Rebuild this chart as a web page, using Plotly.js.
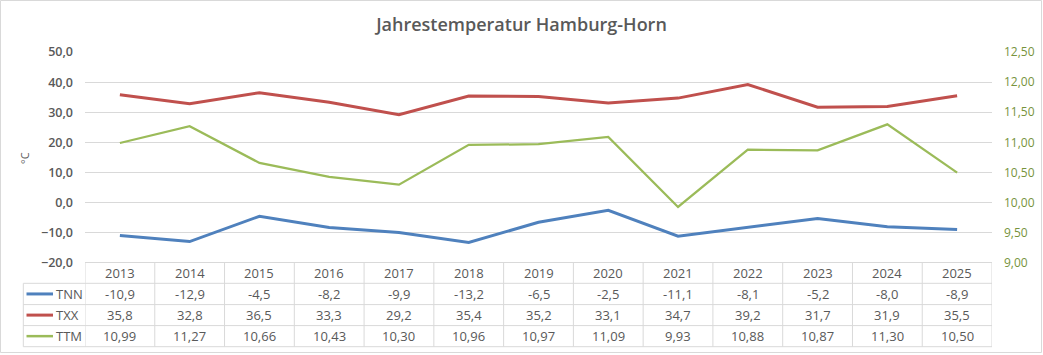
<!DOCTYPE html>
<html>
<head>
<meta charset="utf-8">
<script src="https://cdn.plot.ly/plotly-3.0.1.min.js"></script>
<style>html,body{margin:0;padding:0;background:#fff;}#chart{width:1043px;height:355px;}</style>
</head>
<body>
<div id="chart"></div>
<script>
// ---- data ----
const years = [2013, 2014, 2015, 2016, 2017, 2018, 2019, 2020, 2021, 2022, 2023, 2024, 2025];
const tnn = [-10.9, -12.9, -4.5, -8.2, -9.9, -13.2, -6.5, -2.5, -11.1, -8.1, -5.2, -8.0, -8.9];
const txx = [35.8, 32.8, 36.5, 33.3, 29.2, 35.4, 35.2, 33.1, 34.7, 39.2, 31.7, 31.9, 35.5];
const ttm = [10.99, 11.27, 10.66, 10.43, 10.30, 10.96, 10.97, 11.09, 9.93, 10.88, 10.87, 11.30, 10.50];
const seriesNames = ['TNN', 'TXX', 'TTM'];
const seriesDecimals = [1, 1, 2];
const seriesColors = ['#4F81BD', '#C0504D', '#9BBB59'];
const titleText = 'Jahrestemperatur Hamburg-Horn';
const yTitle = '°C';

// ---- geometry helpers (layout only) ----
const FW = 1043, FH = 355;
const L = 85, R = 51, T = 52, B = 92;
const PW = FW - L - R, PH = FH - T - B;
const px = p => (p - L) / PW;
const py = p => 1 - (p - T) / PH;

const gray = '#595959';
const lineGray = '#D9D9D9';
const font = 'Open Sans, Noto Sans, sans-serif';

const traces = [
  {x: years, y: tnn, name: seriesNames[0], type: 'scatter', mode: 'lines', line: {color: seriesColors[0], width: 3}, yaxis: 'y'},
  {x: years, y: txx, name: seriesNames[1], type: 'scatter', mode: 'lines', line: {color: seriesColors[1], width: 3}, yaxis: 'y'},
  {x: years, y: ttm, name: seriesNames[2], type: 'scatter', mode: 'lines', line: {color: seriesColors[2], width: 2.25}, yaxis: 'y2'}
];

const rowsPx = [262.5, 283.3, 304.6, 325.6, 346.7];
const tableRightYear = years[years.length - 1] + 0.5;
const tableLeftYear = years[0] - 0.5;

const shapes = [];
const annotations = [];
// outer border
shapes.push({type: 'rect', xref: 'paper', yref: 'paper', x0: px(0.5), x1: px(1041.5), y0: py(0.5), y1: py(352.5), line: {color: lineGray, width: 1}});
// table horizontal lines
rowsPx.forEach((r, i) => {
  shapes.push({type: 'line', xref: 'paper', yref: 'paper', x0: i === 0 ? px(L) : px(23.3), x1: px(L + PW), y0: py(r), y1: py(r), line: {color: lineGray, width: 1}});
});
// table vertical lines (column boundaries through x axis scale)
for (let i = 0; i <= years.length; i++) {
  const xv = years[0] - 0.5 + i;
  shapes.push({type: 'line', xref: 'x', yref: 'paper', x0: xv, x1: xv, y0: py(rowsPx[0]), y1: py(rowsPx[4]), line: {color: lineGray, width: 1}});
}
shapes.push({type: 'line', xref: 'paper', yref: 'paper', x0: px(23.3), x1: px(23.3), y0: py(rowsPx[1]), y1: py(rowsPx[4]), line: {color: lineGray, width: 1}});

// header years
const rowMid = i => py((rowsPx[i] + rowsPx[i + 1]) / 2);
years.forEach(y => {
  annotations.push({xref: 'x', yref: 'paper', x: y, y: rowMid(0), text: String(y), showarrow: false, font: {family: font, size: 13, color: gray}, xanchor: 'center', yanchor: 'middle'});
});
const fmt = (v, d) => v.toFixed(d).replace('.', ',');
[tnn, txx, ttm].forEach((arr, s) => {
  arr.forEach((v, i) => {
    annotations.push({xref: 'x', yref: 'paper', x: years[i], y: rowMid(s + 1), text: fmt(v, seriesDecimals[s]), showarrow: false, font: {family: font, size: 13, color: gray}, xanchor: 'center', yanchor: 'middle'});
  });
  // legend key
  shapes.push({type: 'line', xref: 'paper', yref: 'paper', x0: px(26.5), x1: px(53), y0: rowMid(s + 1), y1: rowMid(s + 1), line: {color: seriesColors[s], width: s === 2 ? 2.5 : 3}});
  annotations.push({xref: 'paper', yref: 'paper', x: px(54), y: rowMid(s + 1), text: seriesNames[s], showarrow: false, font: {family: font, size: 13, color: gray}, xanchor: 'left', yanchor: 'middle'});
});
// y axis title
annotations.push({xref: 'paper', yref: 'paper', x: px(24), y: py(158), text: yTitle, textangle: -90, showarrow: false, font: {family: font, size: 11, color: gray}, xanchor: 'center', yanchor: 'middle'});

const layout = {
  width: FW, height: FH,
  margin: {l: L, r: R, t: T, b: B, pad: 0},
  paper_bgcolor: '#fff', plot_bgcolor: '#fff',
  separators: ',.',
  showlegend: false,
  title: {text: titleText, font: {family: font, size: 18, color: gray, weight: 600}, x: 0.5, xref: 'container', y: 1 - 25 / FH, yref: 'container', yanchor: 'middle'},
  xaxis: {range: [tableLeftYear, tableRightYear], showticklabels: false, showgrid: false, zeroline: false, showline: false, ticks: '', fixedrange: true},
  yaxis: {range: [-20, 50], dtick: 10, tickformat: '.1f', showgrid: true, gridcolor: lineGray, gridwidth: 1, zeroline: false, showline: false, ticks: '',
          tickfont: {family: font, size: 12.5, color: gray, weight: 600}, ticklabelstandoff: 11},
  yaxis2: {range: [9, 12.5], dtick: 0.5, tickformat: '.2f', overlaying: 'y', side: 'right', showgrid: false, zeroline: false, showline: false, ticks: '',
           tickfont: {family: font, size: 12, color: '#77933C'}, ticklabelstandoff: 11},
  shapes: shapes,
  annotations: annotations
};

Plotly.newPlot('chart', traces, layout, {displayModeBar: false, staticPlot: true});
</script>
</body>
</html>
